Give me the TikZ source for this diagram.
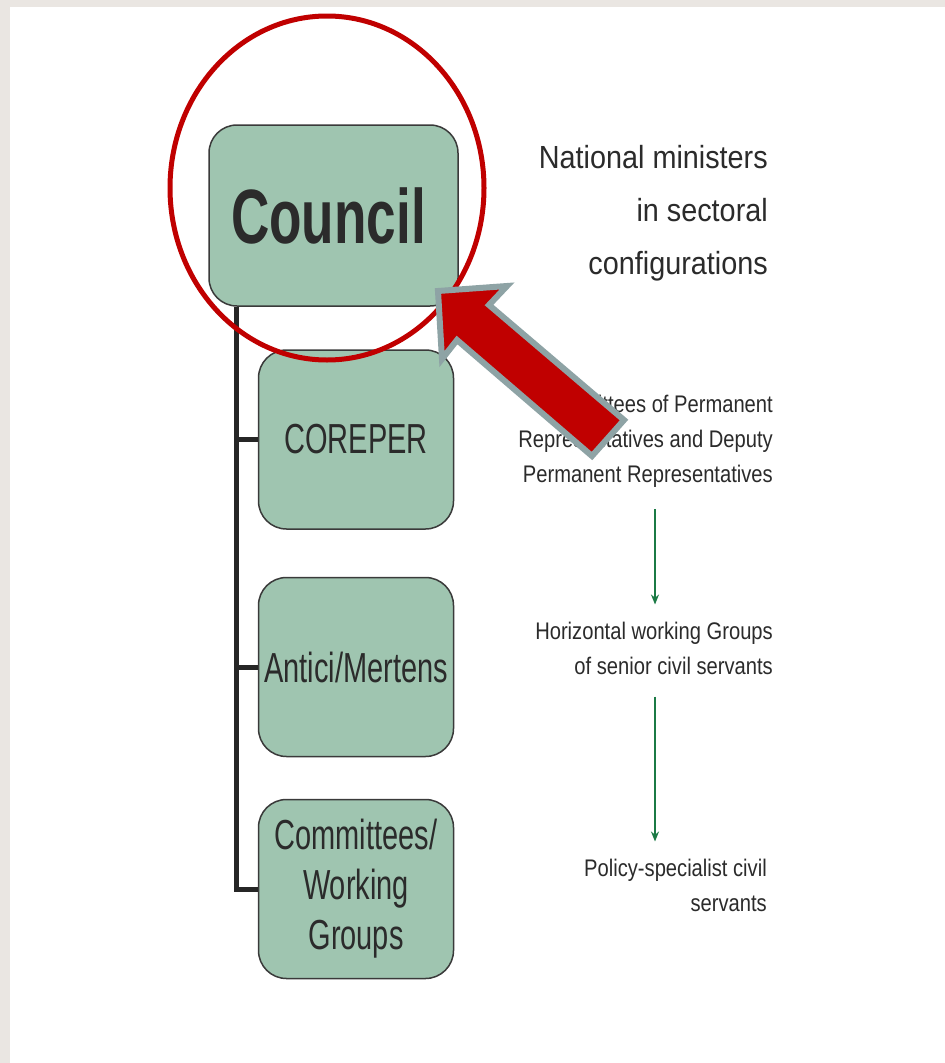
\documentclass[tikz,border=0pt]{standalone}
\usepackage{fontspec}
\setmainfont{Liberation Sans}
\newfontfamily\boxfont[FakeStretch=0.69]{Liberation Sans}
\newfontfamily\bignotefont[FakeStretch=0.9]{Liberation Sans}
\newfontfamily\notefont[FakeStretch=0.84]{Liberation Sans}
\usetikzlibrary{arrows.meta}
\definecolor{sage}{HTML}{9FC5B0}
\definecolor{boxline}{HTML}{3A3A3A}
\definecolor{inktext}{HTML}{2B2B2B}
\definecolor{alarm}{HTML}{C00000}
\definecolor{slate}{HTML}{8EA3A5}
\definecolor{leaf}{HTML}{1B7A45}
\definecolor{frame}{HTML}{EAE6E2}

\begin{document}
\begin{tikzpicture}[x=1pt, y=-1pt,
    orgbox/.style = {draw=boxline, line width=1.5pt, fill=sage,
                rounded corners=28pt, inner sep=0pt, minimum width=#1,
                minimum height=179pt, align=center, text=inktext,
                font=\boxfont\fontsize{42}{50}\selectfont},
    orgbox/.default = 195pt,  % width of the lower boxes
    note/.style = {align=right, anchor=east, inner sep=0pt, text=inktext,
                font=\notefont\fontsize{24}{35}\selectfont},
    spine/.style = {line width=5pt, color=black!85},
    flow/.style = {-{Stealth[length=10pt,width=8pt]}, leaf, line width=1.5pt,
                shorten <=22pt, shorten >=17pt}
                    ]
        \useasboundingbox (0,0) rectangle (945,1063);
        \fill[frame] (0,0) rectangle (945,1063);
        \fill[white] (10,7) rectangle (945,1063);
        % the hierarchy of boxes
        \node[orgbox=249pt, minimum height=181pt] (council) at (333.5,215.5)
            {\bfseries\fontsize{77}{77}\selectfont Council\hspace*{10pt}};
        \foreach \y/\n/\t in {439.5/coreper/COREPER, 667/antici/{Antici/Mertens},
                889/cwg/{Committees/\\Working\\Groups}}
            \node[orgbox] (\n) at (356,\y) {\t};
        \coordinate (spinetop) at ([xshift=28pt]council.south west);
        \draw [spine] (spinetop) |- (cwg.west);
        \foreach \n in {coreper, antici}
            \draw [spine] (spinetop |- \n.west) -- (\n.west);
        % notes on the right
        \node[note, font=\bignotefont\fontsize{32}{53}\selectfont] (ministers) at (768,213)
            {National ministers\\in sectoral\\configurations};
        \node[note] (perm) at (773,441)
            {Committees of Permanent\\Representatives and Deputy\\Permanent Representatives};
        \node[note] (horiz) at (773,648) {Horizontal working Groups\\of senior civil servants};
        \node[note] (policy) at (767,885) {Policy-specialist civil\\servants};
        \coordinate (flowx) at (655,0);
        \draw [flow] (perm.south -| flowx) -- (horiz.north -| flowx);
        \draw [flow] (horiz.south -| flowx) -- (policy.north -| flowx);
        % highlight
        \draw [alarm, line width=5pt] (327,188) ellipse [x radius=157pt, y radius=172pt];
        \draw [fill=alarm, draw=slate, line width=6pt, line join=miter]
            (438,291) -- (507,286) -- (489,305) -- (624,420) -- (592,456)
            -- (457,340) -- (442,359) -- cycle;
    \end{tikzpicture}
\end{document}
